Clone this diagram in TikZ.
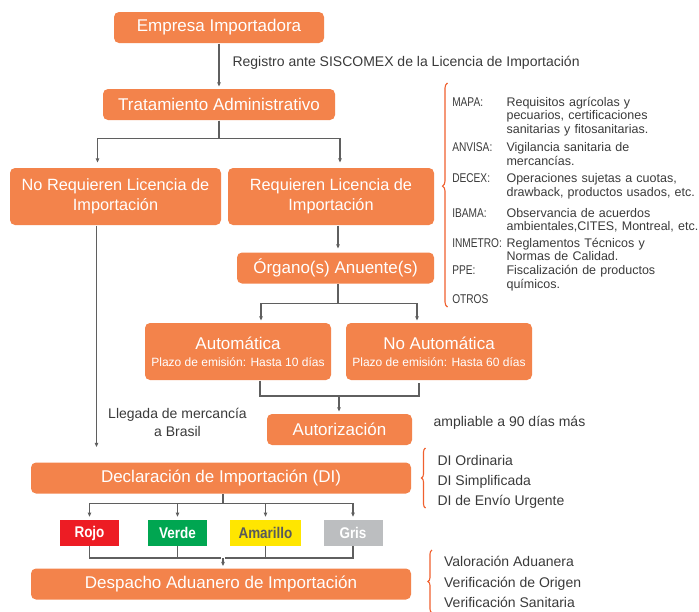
\documentclass[tikz,border=0pt]{standalone}
\usepackage{fontspec}
\setmainfont{Liberation Sans}
\newfontfamily\condfont{Liberation Sans}[FakeStretch=0.87]
\newfontfamily\narrowfont{Liberation Sans}[FakeStretch=0.8]
\usetikzlibrary{arrows.meta,decorations.pathreplacing}
\definecolor{boxorange}{HTML}{F3834B}
\definecolor{bracered}{HTML}{F0602E}
\definecolor{linegray}{HTML}{5F5F5F}
\definecolor{notegray}{HTML}{3A3A3A}
\definecolor{flagred}{HTML}{ED1C24}
\definecolor{flaggreen}{HTML}{00A651}
\definecolor{flagyellow}{HTML}{FFE600}
\definecolor{flaggray}{HTML}{BCBEC0}
\definecolor{flagtext}{HTML}{58595B}
\begin{document}
\begin{tikzpicture}[x=1pt,y=-1pt,shorten >=2pt,->,>={Triangle[length=4pt,width=3.4pt]},line width=1.1pt]
		\tikzstyle{block}=[fill=boxorange,text=white,rounded corners=5pt,inner sep=0pt,align=center,font=\fontsize{17}{20}\selectfont]
		\tikzstyle{flag}=[minimum height=25.5pt,inner sep=0pt,text=white,font=\condfont\bfseries\fontsize{15.5}{18}\selectfont]
		\tikzstyle{note}=[text=notegray,inner sep=0pt,font=\fontsize{14}{18}\selectfont]
		\tikzstyle{small}=[text=notegray,inner sep=0pt,anchor=base west,font=\fontsize{12.5}{13.6}\selectfont]
		\tikzstyle{tag}=[small,font=\narrowfont\fontsize{12.7}{13.6}\selectfont]
		\tikzstyle{curly}=[-,shorten >=0pt,draw=bracered,line width=1.1pt,decorate,decoration={brace,amplitude=5pt}]
 
		\useasboundingbox (0,0) rectangle (699,611);
 
		\node[block,minimum width=210pt,minimum height=31pt](emp) at (219,27.5){Empresa Importadora};
		\node[block,minimum width=232pt,minimum height=31pt](trat) at (219,104.5){Tratamiento Administrativo};
		\node[block,minimum width=211pt,minimum height=57pt,font=\fontsize{16.3}{20}\selectfont](noreq) at (115.5,196.5){No Requieren Licencia de\\Importación};
		\node[block,minimum width=206pt,minimum height=57pt,font=\fontsize{16.3}{20}\selectfont](req) at (331,196.5){Requieren Licencia de\\Importación};
		\node[block,minimum width=197pt,minimum height=31pt](org) at (335.5,268){Órgano(s) Anuente(s)};
		\node[block,minimum width=186pt,minimum height=57pt](auto) at (238,351.5){Automática\\[-3pt]{\fontsize{12}{14}\selectfont Plazo de emisión: Hasta 10 días}};
		\node[block,minimum width=186pt,minimum height=57pt](noauto) at (439,351.5){No Automática\\[-3pt]{\fontsize{12}{14}\selectfont Plazo de emisión: Hasta 60 días}};
		\node[block,minimum width=145pt,minimum height=31pt](autor) at (339.5,429.5){Autorización};
		\node[block,minimum width=380pt,minimum height=31pt](decl) at (221,478){Declaración de Importación (DI)};
		\node[block,minimum width=380pt,minimum height=31pt](desp) at (221,584){Despacho Aduanero de Importación};
 
		\node[flag,fill=flagred,minimum width=59pt](rojo) at (89.5,533){Rojo};
		\node[flag,fill=flaggreen,minimum width=59pt](verde) at (177.5,533){Verde};
		\node[flag,fill=flagyellow,minimum width=71pt,text=flagtext](amarillo) at (265.5,533){Amarillo};
		\node[flag,fill=flaggray,minimum width=59pt](gris) at (353,533){Gris};
 
		\node[note,anchor=west](reg) at (232,63){Registro ante SISCOMEX de la Licencia de Importación};
		\node[note,align=center](lleg) at (177.5,422){Llegada de mercancía\\a Brasil};
		\node[note,anchor=west](ampl) at (433,423){ampliable a 90 días más};
 
		% organismos anuentes
		\node[tag](mapa) at (451.7,106.2){MAPA:};
		\node[small,text width=200pt,align=left](mapatx) at (506,106.2){Requisitos agrícolas y\\pecuarios, certificaciones\\sanitarias y fitosanitarias.};
		\node[tag](anvisa) at (451.7,151.5){ANVISA:};
		\node[small,text width=200pt,align=left](anvisatx) at (506,151.5){Vigilancia sanitaria de\\mercancías.};
		\node[tag](decex) at (451.7,182.5){DECEX:};
		\node[small,text width=200pt,align=left](decextx) at (506,182.5){Operaciones sujetas a cuotas,\\drawback, productos usados, etc.};
		\node[tag](ibama) at (451.7,217.2){IBAMA:};
		\node[small,text width=200pt,align=left](ibamatx) at (506,217.2){Observancia de acuerdos\\ambientales,CITES, Montreal, etc.};
		\node[tag](inmetro) at (451.7,247.2){INMETRO:};
		\node[small,text width=200pt,align=left](inmetrotx) at (506,247.2){Reglamentos Técnicos y\\Normas de Calidad.};
		\node[tag](ppe) at (451.7,274.5){PPE:};
		\node[small,text width=200pt,align=left](ppetx) at (506,274.5){Fiscalización de productos\\químicos.};
		\node[tag](otros) at (451.7,303.5){OTROS};
 
		% tipos de DI y controles
		\node[note,anchor=base west](dio) at (437,465){DI Ordinaria};
		\node[note,anchor=base west](dis) at (437,485){DI Simplificada};
		\node[note,anchor=base west](diu) at (437,505){DI de Envío Urgente};
		\node[note,anchor=base west](val) at (443.6,566.7){Valoración Aduanera};
		\node[note,anchor=base west](ori) at (443.6,587){Verificación de Origen};
		\node[note,anchor=base west](san) at (443.6,607){Verificación Sanitaria};
 
		\draw[curly,decoration={aspect=0.54}] (447.5,307) -- (447.5,83);
		\draw[curly,decoration={amplitude=4pt}] (425.5,508) -- (425.5,448);
		\draw[curly,decoration={amplitude=4pt}] (432,613) -- (432,550);
 
		\begin{scope}[color=linegray]
		\draw (emp) -- (trat);
		\draw[shorten >=5pt] (trat.south) -- ++(0,18) -| ([xshift=-18pt]noreq.north);
		\draw[shorten >=5pt] (trat.south) -- ++(0,18) -| ([xshift=9pt]req.north);
		\draw[shorten >=3.5pt] ([xshift=7pt]req.south) -- ([xshift=7pt]req.south |- org.north);
		\draw ([xshift=2.5pt]org.south) -- ++(0,19) -| ([xshift=23pt]auto.north);
		\draw ([xshift=2.5pt]org.south) -- ++(0,19) -| ([xshift=-22pt]noauto.north);
		\coordinate (j) at (339,396);
		\draw[-] ([xshift=22pt]auto.south) |- (j) -| ([xshift=-20pt]noauto.south);
		\draw (j) -- (j |- autor.north);
		\draw[shorten >=15pt] ([xshift=-19pt]noreq.south) -- ([xshift=-19pt]noreq.south |- decl.north);
		\foreach \f in {rojo,verde,amarillo,gris}
			\draw[shorten >=3pt] ([xshift=2pt]decl.south) -- ++(0,9) -| (\f.north);
		\coordinate (k) at (223,558);
		\foreach \f in {rojo,verde,amarillo,gris}
			\draw[-] (\f.south) |- (k);
		\draw (k) -- (k |- desp.north);
		\end{scope}
	\end{tikzpicture}
\end{document}
